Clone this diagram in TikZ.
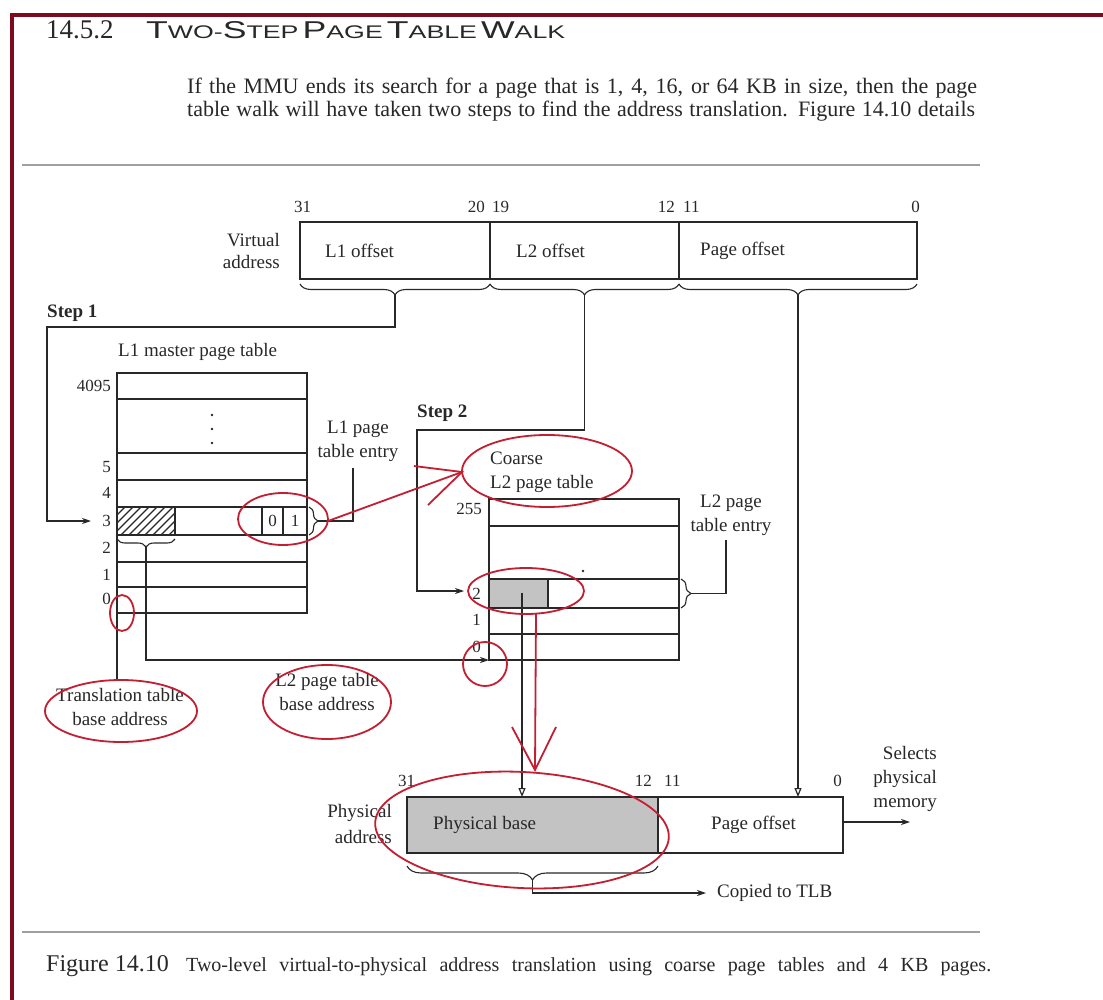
\documentclass[tikz,border=0pt]{standalone}
\usepackage{fontspec}
\setmainfont{Liberation Serif}
\newfontfamily\headsans{Liberation Sans}
\usepackage{graphicx}
\usetikzlibrary{arrows.meta,decorations.pathreplacing}
\definecolor{framered}{RGB}{125,10,30}
\definecolor{annred}{RGB}{195,30,50}
\definecolor{ink}{RGB}{40,40,40}
\definecolor{shade}{RGB}{195,195,195}
\newcommand\hbig[1]{{\fontsize{24}{26}\selectfont #1}}
\newcommand\hsml[1]{{\fontsize{18}{20}\selectfont #1}}
\begin{document}
\begin{tikzpicture}[x=1pt,y=-1pt,
  lbl/.style={font=\fontsize{19}{24}\selectfont, inner sep=0pt, text=ink},
  num/.style={font=\fontsize{17}{19}\selectfont, inner sep=0pt, text=ink},
  steplbl/.style={font=\fontsize{19}{22}\selectfont\bfseries, inner sep=0pt, text=ink},
  tbl/.style={draw=ink, line width=1.2pt},
  conn/.style={draw=ink, line width=1.2pt},
  arr/.style={conn, -{Stealth[length=9pt,width=6pt]}},
  oarr/.style={conn, -{Triangle[open,length=9pt,width=7pt]}},
  brc/.style={draw=ink, line width=1.1pt, decorate, decoration={brace, amplitude=#1}},
  brc/.default=10pt,
  annot/.style={draw=annred, line width=1.8pt},
]
\fill[white] (0,0) rectangle (1103,1000);
\useasboundingbox (0,0) rectangle (1103,1000);

% page frame
\draw[draw=framered, line width=3.5pt] (12,1002) -- (12,15) -- (1105,15);

% heading and paragraph
\node[anchor=base west, inner sep=0pt, font=\fontsize{27}{29}\selectfont, text=ink] (secnum) at (46,39) {14.5.2};
\node[anchor=base west, inner sep=0pt, text=ink] (sectitle) at (146,39)
  {\resizebox{419pt}{17pt}{\headsans\hbig{T}\hsml{WO-}\hbig{S}\hsml{TEP} \hbig{P}\hsml{AGE} \hbig{T}\hsml{ABLE} \hbig{W}\hsml{ALK}}};
\node[anchor=base west, inner sep=0pt, font=\fontsize{22}{24}\selectfont, text=ink] (para1) at (187,94)
  {\makebox[790pt][s]{If the MMU ends its search for a page that is 1, 4, 16, or 64 KB in size, then the page}};
\node[anchor=base west, inner sep=0pt, font=\fontsize{22}{24}\selectfont, text=ink] (para2) at (187,117)
  {\makebox[788pt][s]{table walk will have taken two steps to find the address translation. Figure 14.10 details}};
\draw[draw=gray!75, line width=2pt] (22,165) -- (980,165);

% virtual address
\draw[tbl] (300,222) rectangle (917,279);
\draw[tbl] (490,222) -- (490,279);
\draw[tbl] (679,222) -- (679,279);
\node[lbl, anchor=west] (vl1) at (325,251) {L1 offset};
\node[lbl, anchor=west] (vl2) at (516,251) {L2 offset};
\node[lbl, anchor=west] (vpo) at (700,251) {Page offset};
\node[lbl, font=\fontsize{19}{22}\selectfont, align=right, anchor=east] (vlabel) at (280,251) {Virtual\\address};
\node[num, anchor=base west] (vb31) at (294,213) {31};
\node[num, anchor=base east] (vb20) at (485,213) {20};
\node[num, anchor=base west] (vb19) at (492,213) {19};
\node[num, anchor=base east] (vb12) at (675,213) {12};
\node[num, anchor=base west] (vb11) at (683,213) {11};
\node[num, anchor=base east] (vb0) at (920,213) {0};
\draw[brc=11pt] (490,284) -- (300,284);
\draw[brc=11pt] (679,284) -- (490,284);
\draw[brc=11pt] (917,284) -- (679,284);
\coordinate (tip1) at (395,295);
\coordinate (tip2) at (584.5,295);
\coordinate (tip3) at (798,295);

% L1 master page table
\node[steplbl, anchor=west] (step1) at (47,313) {Step 1};
\node[lbl, anchor=west] (l1title) at (118,352) {L1 master page table};
\draw[tbl] (117,373) rectangle (307,613);
\draw[draw=ink, line width=1.8pt] (117,399) -- (307,399);
\foreach \yy in {453,480,507,535,562,587} \draw[tbl] (117,\yy) -- (307,\yy);
\begin{scope}
  \clip (117,507) rectangle (175,535);
  \foreach \xx in {95,103,...,183} \draw[draw=ink, line width=1.3pt] (\xx,537) -- ++(32,-32);
\end{scope}
\draw[tbl] (175,507) -- (175,535);
\draw[tbl] (262,507) -- (262,535);
\draw[tbl] (283,507) -- (283,535);
\node[num] (bit0) at (272.5,521) {0};
\node[num] (bit1) at (295,521) {1};
\foreach \yy in {415,429,443} \fill[ink] (212,\yy) circle (1.4pt);
\node[num, anchor=east] (r4095) at (111,386) {4095};
\node[num, anchor=east] (r5) at (111,467) {5};
\node[num, anchor=east] (r4) at (111,493) {4};
\node[num, anchor=east] (r3) at (111,521) {3};
\node[num, anchor=east] (r2) at (111,548) {2};
\node[num, anchor=east] (r1) at (111,575) {1};
\node[num, anchor=east] (r0) at (111,599) {0};
\coordinate (s1a) at (395,327);
\coordinate (s1b) at (47,327);
\coordinate (s1c) at (47,521);
\coordinate (s1end) at (91,521);
\draw[arr] (tip1) -- (s1a) -- (s1b) -- (s1c) -- (s1end);

% L1 entry label
\node[lbl, align=center] (l1entry) at (358,441) {L1 page\\table entry};
\draw[brc=9pt] (309,507) -- (309,535);
\coordinate (l1etip) at (318,521);
\draw[conn] (l1etip) -- (353,521) -- (353,468);

% hatched field brace -> L2 base
\draw[brc=8pt] (175,539) -- (117,539);
\coordinate (hbtip) at (146,547);
\coordinate (l2base) at (489,660);
\draw[arr] (hbtip) -- (146,660) -- (l2base);
\coordinate (ttb) at (117,613);
\draw[conn] (ttb) -- (117,680);

% L2 coarse page table
\node[steplbl, anchor=west] (step2) at (417,413) {Step 2};
\node[lbl, align=left, anchor=west] (coarse) at (490,472) {Coarse\\L2 page table};
\draw[tbl] (489,499) rectangle (679,660);
\draw[draw=ink, line width=1.8pt] (489,526) -- (679,526);
\foreach \yy in {579,608,634} \draw[tbl] (489,\yy) -- (679,\yy);
\filldraw[fill=shade, draw=ink, line width=1.2pt] (489,579) rectangle (548,608);
\fill[ink] (583,571) circle (1.3pt);
\node[num, anchor=east] (q255) at (482,509) {255};
\node[num, anchor=east] (q2) at (481,594) {2};
\node[num, anchor=east] (q1) at (481,620) {1};
\node[num, anchor=east] (q0) at (481,647) {0};
\coordinate (s2a) at (584.5,430);
\coordinate (s2b) at (417,430);
\coordinate (s2c) at (417,591);
\coordinate (s2end) at (464,591);
\draw[arr] (tip2) -- (s2a) -- (s2b) -- (s2c) -- (s2end);
\draw[brc=10pt] (681,579) -- (681,608);
\coordinate (l2etip) at (691,593.5);
\draw[conn] (l2etip) -- (726,593.5) -- (726,540);
\node[lbl, align=center] (l2entry) at (731,515) {L2 page\\table entry};

% physical address
\filldraw[fill=shade, draw=ink, line width=1.2pt] (407,797) rectangle (658,853);
\draw[tbl] (658,797) rectangle (843,853);
\node[lbl, anchor=west] (pbase) at (433,825) {Physical base};
\node[lbl, anchor=west] (ppo) at (711,825) {Page offset};
\node[lbl, font=\fontsize{19}{26}\selectfont, align=right, anchor=east] (plabel) at (392,824) {Physical\\address};
\node[num, anchor=base west] (pb31) at (398,786) {31};
\node[num, anchor=base east] (pb12) at (652,786) {12};
\node[num, anchor=base west] (pb11) at (664,786) {11};
\node[num, anchor=base east] (pb0) at (842,786) {0};
\coordinate (grey) at (522,593);
\coordinate (pin1) at (522,797);
\coordinate (pin2) at (798,797);
\draw[oarr] (grey) -- (pin1);
\draw[oarr] (tip3) -- (pin2);
\coordinate (pout) at (843,822);
\coordinate (poutend) at (910,822);
\draw[arr] (pout) -- (poutend);
\node[lbl, align=right, anchor=east] (selects) at (937,779) {Selects\\physical\\memory};
\draw[brc=14pt] (658,866) -- (407,866);
\coordinate (pbtip) at (532.5,880);
\node[lbl, anchor=west] (tlb) at (717,893) {Copied to TLB};
\draw[arr] (pbtip) -- (532.5,893) -- ([xshift=-11pt]tlb.west);

% labels at the bottom left
\node[lbl, align=center] (ttblabel) at (120,707) {Translation table\\base address};
\node[lbl, align=center] (l2blabel) at (327,692) {L2 page table\\base address};

% red annotations
\draw[annot] (283,519) ellipse [x radius=45pt, y radius=26pt];
\coordinate (rA) at (328,521);
\coordinate (rB) at (462,472);
\draw[annot] (rA) -- (rB);
\draw[annot] (414,466) -- (rB) -- (428,505);
\draw[annot] (547,471) ellipse [x radius=85pt, y radius=36pt];
\draw[annot] (526,591) ellipse [x radius=58pt, y radius=23pt];
\draw[annot] (122,613) ellipse [x radius=12pt, y radius=18pt];
\draw[annot] (121,711) ellipse [x radius=76pt, y radius=31pt];
\draw[annot] (327,702) ellipse [x radius=64pt, y radius=37pt];
\draw[annot] (485,664) circle [radius=22pt];
\coordinate (rC) at (536,613);
\coordinate (rD) at (535,770);
\draw[annot] (rC) -- (rD);
\draw[annot] (512,727) -- (rD) -- (556,727);
\draw[annot, rotate around={-3:(522,830)}] (522,830) ellipse [x radius=147pt, y radius=58pt];

% caption
\draw[draw=gray!75, line width=2pt] (22,932) -- (980,932);
\node[anchor=base west, inner sep=0pt, font=\fontsize{24}{26}\selectfont, text=ink] (capnum) at (46,971) {Figure 14.10};
\node[anchor=base west, inner sep=0pt, font=\fontsize{20}{22}\selectfont, text=ink] (captext) at (186,971)
  {\makebox[805pt][s]{Two-level virtual-to-physical address translation using coarse page tables and 4 KB pages.}};
\end{tikzpicture}
\end{document}
